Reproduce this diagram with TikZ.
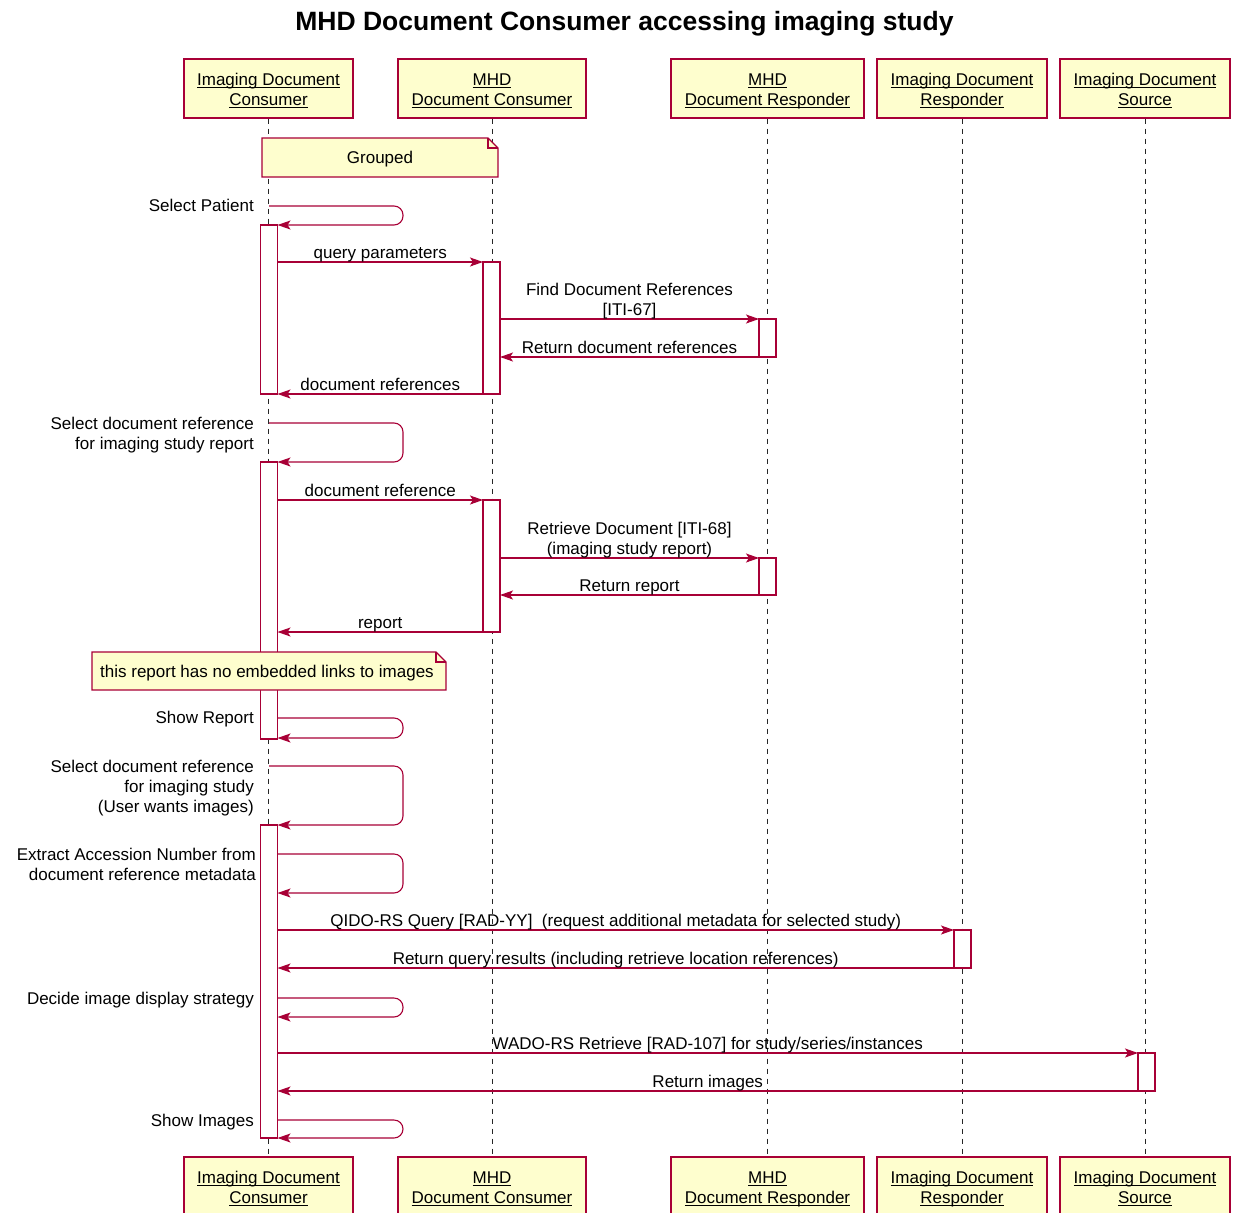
\documentclass[tikz,border=0pt]{standalone}
\usepackage{fontspec}
\setmainfont{Liberation Sans}
\usetikzlibrary{arrows.meta,calc}
\definecolor{umlred}{HTML}{A80036}
\definecolor{umlfill}{HTML}{FEFECE}
\newcommand\rlines[1]{\vtop{\halign{\hfil##\cr#1\crcr}}}
\newcommand\clines[1]{\vbox{\halign{\hfil##\hfil\cr#1\crcr}}}
\newcommand\plines[1]{\vbox{\halign{\hfil\rule[-2.6pt]{0pt}{19.6pt}##\hfil\cr#1\crcr}}}
\newcommand\uln[1]{\setbox0=\hbox{#1}\rlap{\rule[-2.6pt]{\wd0}{0.9pt}}\smash{\box0}}
\begin{document}
\begin{tikzpicture}[x=1pt,y=-1pt,font=\fontsize{17}{20}\selectfont,
  part/.style={draw=umlred,fill=umlfill,line width=1.3pt,minimum height=59pt,inner sep=0pt},
  life/.style={line width=0.9pt,dash pattern=on 5pt off 5pt,black!85},
  actbox/.style={draw=umlred,fill=white,line width=1.2pt},
  msg/.style={draw=umlred,line width=1.1pt,-{Stealth[length=13pt,width=9pt,inset=3pt]}},
  selfmsg/.style={msg,rounded corners=9pt},
  mlabel/.style={anchor=base,inner sep=0pt,yshift=4pt},
  slabel/.style={anchor=base east,inner sep=0pt},
  notebox/.style={draw=umlred,fill=umlfill,line width=1.1pt},
  plain/.style={inner sep=0pt}
]
\useasboundingbox (0,0) rectangle (1235,1213);

% title
\node[plain,anchor=base,font=\fontsize{26.5}{30}\selectfont\bfseries] (title) at (624.5,30) {MHD Document Consumer accessing imaging study};

% participants
\node[part,minimum width=169pt] (p1) at (268.5,88.5) {\plines{\uln{Imaging Document}\cr\uln{Consumer}}};
\node[part,minimum width=188pt] (p2) at (492,88.5) {\plines{\uln{MHD}\cr\uln{Document Consumer}}};
\node[part,minimum width=193pt] (p3) at (767.5,88.5) {\plines{\uln{MHD}\cr\uln{Document Responder}}};
\node[part,minimum width=170pt] (p4) at (962,88.5) {\plines{\uln{Imaging Document}\cr\uln{Responder}}};
\node[part,minimum width=170pt] (p5) at (1145,88.5) {\plines{\uln{Imaging Document}\cr\uln{Source}}};

\node[part,minimum width=169pt] (q1) at (268.5,1186.5) {\plines{\uln{Imaging Document}\cr\uln{Consumer}}};
\node[part,minimum width=188pt] (q2) at (492,1186.5) {\plines{\uln{MHD}\cr\uln{Document Consumer}}};
\node[part,minimum width=193pt] (q3) at (767.5,1186.5) {\plines{\uln{MHD}\cr\uln{Document Responder}}};
\node[part,minimum width=170pt] (q4) at (962,1186.5) {\plines{\uln{Imaging Document}\cr\uln{Responder}}};
\node[part,minimum width=170pt] (q5) at (1145,1186.5) {\plines{\uln{Imaging Document}\cr\uln{Source}}};

% lifelines
\foreach \i in {1,...,5} { \draw[life] (p\i.south) -- (q\i.north); }

% activations
\draw[actbox] (260.5,225) rectangle (277.5,394);
\draw[actbox] (483,262) rectangle (500,394);
\draw[actbox] (759,319) rectangle (776,357);
\draw[actbox] (260.5,462) rectangle (277.5,739);
\draw[actbox] (483,500) rectangle (500,632);
\draw[actbox] (759,558) rectangle (776,595);
\draw[actbox] (260.5,825) rectangle (277.5,1138);
\draw[actbox] (954,930) rectangle (971,968);
\draw[actbox] (1138,1053) rectangle (1155,1091);

% note: Grouped
\coordinate (g1) at (262,138); \coordinate (g2) at (498,177);
\draw[notebox] (g1) -- ($(g1 -| g2)+(-10,0)$) -- ($(g1 -| g2)+(0,10)$) -- (g2) -- (g1 |- g2) -- cycle;
\draw[notebox,fill=none] ($(g1 -| g2)+(-10,0)$) -- ++(0,10) -- ++(10,0);
\node[plain,anchor=base] (gt) at (380,163) {Grouped};

% message endpoints
\coordinate (s1a) at (269,206);   \coordinate (s1b) at (277.5,225);
\coordinate (m2s) at (277.5,262); \coordinate (m2e) at (483,262);
\coordinate (m3s) at (500,319);   \coordinate (m3e) at (759,319);
\coordinate (m4s) at (759,357);   \coordinate (m4e) at (500,357);
\coordinate (m5s) at (483,394);   \coordinate (m5e) at (277.5,394);
\coordinate (s6a) at (269,423);   \coordinate (s6b) at (277.5,462);
\coordinate (m7s) at (277.5,500); \coordinate (m7e) at (483,500);
\coordinate (m8s) at (500,558);   \coordinate (m8e) at (759,558);
\coordinate (m9s) at (759,595);   \coordinate (m9e) at (500,595);
\coordinate (m10s) at (483,632);  \coordinate (m10e) at (277.5,632);
\coordinate (s11a) at (277.5,718); \coordinate (s11b) at (277.5,738);
\coordinate (s12a) at (269,766);  \coordinate (s12b) at (277.5,825);
\coordinate (s13a) at (277.5,854); \coordinate (s13b) at (277.5,893);
\coordinate (m14s) at (277.5,930); \coordinate (m14e) at (954,930);
\coordinate (m15s) at (954,968);  \coordinate (m15e) at (277.5,968);
\coordinate (s16a) at (277.5,998); \coordinate (s16b) at (277.5,1017);
\coordinate (m17s) at (277.5,1053); \coordinate (m17e) at (1138,1053);
\coordinate (m18s) at (1138,1091); \coordinate (m18e) at (277.5,1091);
\coordinate (s19a) at (277.5,1120); \coordinate (s19b) at (277.5,1138);

% messages
\draw[selfmsg] (s1a) -- ++(134,0) |- (s1b);
\node[slabel] (t1) at (254,211) {Select Patient};
\draw[msg] (m2s) -- node[mlabel] (t2) {query parameters} (m2e);
\draw[msg] (m3s) -- node[mlabel] (t3) {\clines{Find Document References\cr [ITI-67]}} (m3e);
\draw[msg] (m4s) -- node[mlabel] (t4) {Return document references} (m4e);
\draw[msg] (m5s) -- node[mlabel] (t5) {document references} (m5e);
\draw[selfmsg] (s6a) -- ++(134,0) |- (s6b);
\node[slabel] (t6) at (254,429) {\rlines{Select document reference\cr for imaging study report}};
\draw[msg] (m7s) -- node[mlabel] (t7) {document reference} (m7e);
\draw[msg] (m8s) -- node[mlabel] (t8) {\clines{Retrieve Document [ITI-68]\cr (imaging study report)}} (m8e);
\draw[msg] (m9s) -- node[mlabel] (t9) {Return report} (m9e);
\draw[msg] (m10s) -- node[mlabel] (t10) {report} (m10e);

% note 2
\coordinate (n1) at (92,652); \coordinate (n2) at (446,690);
\draw[notebox] (n1) -- ($(n1 -| n2)+(-10,0)$) -- ($(n1 -| n2)+(0,10)$) -- (n2) -- (n1 |- n2) -- cycle;
\draw[notebox,fill=none] ($(n1 -| n2)+(-10,0)$) -- ++(0,10) -- ++(10,0);
\node[plain,anchor=base west] (nt) at (100,677) {this report has no embedded links to images};

\draw[selfmsg] (s11a) -- ++(125.5,0) |- (s11b);
\node[slabel] (t11) at (254,723) {Show Report};
\draw[selfmsg] (s12a) -- ++(134,0) |- (s12b);
\node[slabel] (t12) at (254,772) {\rlines{Select document reference\cr for imaging study\cr (User wants images)}};
\draw[selfmsg] (s13a) -- ++(125.5,0) |- (s13b);
\node[slabel] (t13) at (256,860) {\rlines{Extract Accession Number from\cr document reference metadata}};
\draw[msg] (m14s) -- node[mlabel] (t14) {QIDO-RS Query [RAD-YY]\ \ (request additional metadata for selected study)} (m14e);
\draw[msg] (m15s) -- node[mlabel] (t15) {Return query results (including retrieve location references)} (m15e);
\draw[selfmsg] (s16a) -- ++(125.5,0) |- (s16b);
\node[slabel] (t16) at (254,1004) {Decide image display strategy};
\draw[msg] (m17s) -- node[mlabel] (t17) {WADO-RS Retrieve [RAD-107] for study/series/instances} (m17e);
\draw[msg] (m18s) -- node[mlabel] (t18) {Return images} (m18e);
\draw[selfmsg] (s19a) -- ++(125.5,0) |- (s19b);
\node[slabel] (t19) at (254,1126) {Show Images};
\end{tikzpicture}
\end{document}
